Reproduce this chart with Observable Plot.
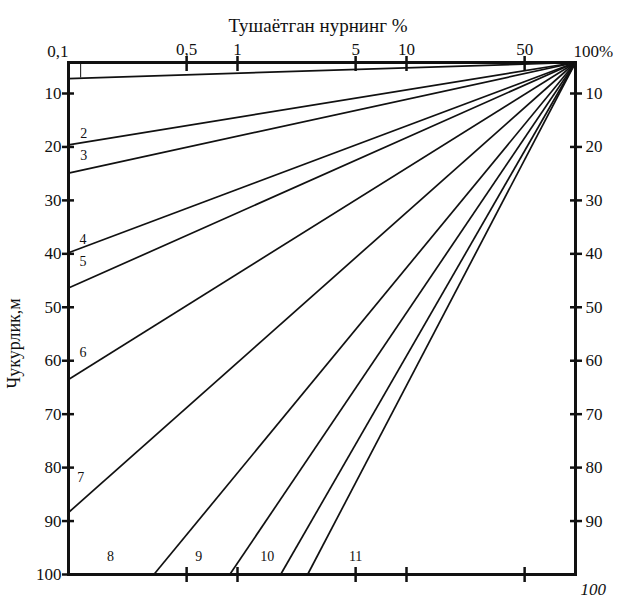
<!DOCTYPE html>
<html>
<head>
<meta charset="utf-8">
<script src="https://cdn.jsdelivr.net/npm/d3@7"></script>
<script src="https://cdn.jsdelivr.net/npm/@observablehq/plot@0.6"></script>
<style>
  html, body { margin: 0; padding: 0; background: #fff; }
  svg { display: block; }
</style>
</head>
<body>
<div id="chart"></div>
<script>
// ---- data ----
const topDepth = 4.2;                 // depth at the upper edge of the chart (m)
const xTicks = [0.5, 1, 5, 10, 50];   // incident light %, tick positions
const leftTicks = [10, 20, 30, 40, 50, 60, 70, 80, 90, 100];
const rightTicks = [10, 20, 30, 40, 50, 60, 70, 80, 90];

// lines 1–7 end on the left edge (0.1 %) at these depths (m)
const leftLineIds = ["1", "2", "3", "4", "5", "6", "7"];
const leftLineDepth = [7.2, 19.6, 24.9, 39.8, 46.4, 63.5, 88.4];

// lines 8–11 end on the bottom edge (100 m) at these percentages
const bottomLineIds = ["8", "9", "10", "11"];
const bottomLinePct = [0.32, 0.9, 1.8, 2.6];

// line labels
const leftLabelIds = ["2", "3", "4", "5", "6", "7"];
const leftLabelPct = [0.123, 0.123, 0.122, 0.122, 0.122, 0.118];
const leftLabelDepth = [17.5, 21.6, 37.4, 41.5, 58.5, 81.8];
const bottomLabelIds = ["8", "9", "10", "11"];
const bottomLabelPct = [0.177, 0.59, 1.5, 5.0];
const bottomLabelDepth = 96.6;

// small box in the upper-left corner
const boxPct = 0.118;
const boxDepth = 7.1;

// ---- build tables ----
const segments = [
  ...leftLineIds.map((id, i) => ({id, x1: 0.1, y1: leftLineDepth[i], x2: 100, y2: topDepth})),
  ...bottomLineIds.map((id, i) => ({id, x1: bottomLinePct[i], y1: 100, x2: 100, y2: topDepth}))
];
const labels = [
  ...leftLabelIds.map((t, i) => ({t, x: leftLabelPct[i], y: leftLabelDepth[i]})),
  ...bottomLabelIds.map((t, i) => ({t, x: bottomLabelPct[i], y: bottomLabelDepth}))
];

const fmt = d => String(d).replace(".", ",");
const font = "Liberation Serif, Times New Roman, serif";

const chart = Plot.plot({
  width: 617,
  height: 605,
  marginLeft: 68,
  marginRight: 42,
  marginTop: 62,
  marginBottom: 31,
  style: {fontFamily: font, fontSize: "17px", color: "#111", background: "#fff"},
  x: {type: "log", domain: [0.1, 100]},
  y: {domain: [topDepth, 100], reverse: true},
  marks: [
    // top axis ticks
    Plot.axisX({anchor: "top", ticks: xTicks, tickFormat: () => "", tickSize: 15, dy: 8,
      strokeWidth: 2.5, label: null}),
    // top axis labels
    Plot.text(xTicks, {x: d => d, frameAnchor: "top", text: fmt, dy: -20, fontSize: 17}),
    // bottom axis (ticks only)
    Plot.axisX({anchor: "bottom", ticks: xTicks, tickFormat: () => "", tickSize: 15, dy: -7,
      strokeWidth: 2.5, label: null}),
    // left axis
    Plot.axisY({anchor: "left", ticks: leftTicks, tickSize: 12, dx: 6, tickPadding: 1,
      strokeWidth: 2.5, label: null, fontSize: 17}),
    // right axis
    Plot.axisY({anchor: "right", ticks: rightTicks, tickSize: 12, dx: -6, tickPadding: 4,
      strokeWidth: 2.5, label: null, fontSize: 17}),
    Plot.frame({stroke: "#111", strokeWidth: 3}),
    // corner labels
    Plot.text([0.1], {x: d => d, frameAnchor: "top", text: () => "0,1", textAnchor: "end",
      dy: -18, dx: 0, fontSize: 17}),
    Plot.text([100], {x: d => d, frameAnchor: "top", text: () => "100%", textAnchor: "start",
      dy: -18, dx: -2, fontSize: 17}),
    Plot.text([100], {x: d => d, frameAnchor: "bottom", text: () => "100", textAnchor: "start",
      dy: 20, dx: 5, fontStyle: "italic", fontSize: 17}),
    // small box
    Plot.ruleX([boxPct], {x: d => d, y1: topDepth, y2: boxDepth, stroke: "#111", strokeWidth: 1}),
    // lines
    Plot.link(segments, {x1: "x1", y1: "y1", x2: "x2", y2: "y2", stroke: "#111", strokeWidth: 1.7}),
    // line labels
    Plot.text(labels, {x: "x", y: "y", text: "t", fontSize: 14, fill: "#111"}),
    // titles
    Plot.text(["Тушаётган нурнинг %"], {frameAnchor: "top", text: d => d, dy: -44, dx: -4, fontSize: 19}),
    Plot.text(["Чукурлик,м"], {frameAnchor: "left", text: d => d, rotate: -90, dx: -54, dy: 70, fontSize: 18})
  ]
});
document.getElementById("chart").appendChild(chart);
</script>
</body>
</html>
